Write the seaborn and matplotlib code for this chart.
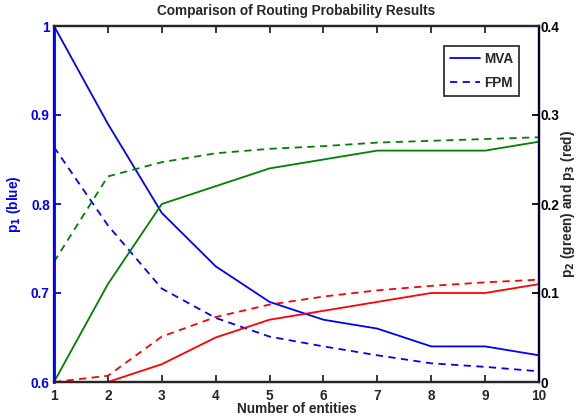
import numpy as np
import pandas as pd
import seaborn as sns
import matplotlib
matplotlib.use("Agg")
import matplotlib.pyplot as plt
from matplotlib.lines import Line2D

# data
entities = [1, 2, 3, 4, 5, 6, 7, 8, 9, 10]
p1_mva = [1.00, 0.89, 0.79, 0.73, 0.69, 0.67, 0.66, 0.64, 0.64, 0.63]
p1_fpm = [0.864, 0.776, 0.705, 0.672, 0.651, 0.640, 0.630, 0.621, 0.617, 0.612]
p2_mva = [0.00, 0.11, 0.20, 0.22, 0.24, 0.25, 0.26, 0.26, 0.26, 0.27]
p2_fpm = [0.135, 0.231, 0.247, 0.257, 0.262, 0.265, 0.269, 0.271, 0.273, 0.275]
p3_mva = [0.00, 0.00, 0.02, 0.05, 0.07, 0.08, 0.09, 0.10, 0.10, 0.11]
p3_fpm = [0.000, 0.007, 0.051, 0.073, 0.087, 0.096, 0.103, 0.108, 0.112, 0.115]

sns.set_style("ticks")
plt.rcParams['font.family'] = ['Liberation Sans', 'DejaVu Sans']
plt.rcParams['font.weight'] = 'bold'
plt.rcParams['axes.labelweight'] = 'bold'
plt.rcParams['axes.titleweight'] = 'bold'

blue = '#0000ff'
green = '#008000'
red = '#ff0000'
dash = (0, (4, 3))

fig = plt.figure(figsize=(5.79, 4.18), dpi=100)
ax = fig.add_axes([54/579, 36/418, 485/579, 356/418])
ax2 = ax.twinx()

left = pd.DataFrame({'x': entities, 'MVA': p1_mva, 'FPM': p1_fpm})
sns.lineplot(data=left, x='x', y='MVA', ax=ax, color=blue, lw=1.3)
sns.lineplot(data=left, x='x', y='FPM', ax=ax, color=blue, lw=1.3, linestyle=dash)

right = pd.DataFrame({'x': entities, 'p2m': p2_mva, 'p2f': p2_fpm, 'p3m': p3_mva, 'p3f': p3_fpm})
sns.lineplot(data=right, x='x', y='p2m', ax=ax2, color=green, lw=1.3)
sns.lineplot(data=right, x='x', y='p2f', ax=ax2, color=green, lw=1.3, linestyle=dash)
sns.lineplot(data=right, x='x', y='p3m', ax=ax2, color=red, lw=1.3)
sns.lineplot(data=right, x='x', y='p3f', ax=ax2, color=red, lw=1.3, linestyle=dash)

ax.set_xlim(1, 10)
ax.set_ylim(0.6, 1.0)
ax2.set_ylim(0, 0.4)
ax.set_xticks(entities)
ax.set_yticks([0.6, 0.7, 0.8, 0.9, 1.0])
ax.set_yticklabels(['0.6', '0.7', '0.8', '0.9', '1'])
ax2.set_yticks([0, 0.1, 0.2, 0.3, 0.4])
ax2.set_yticklabels(['0', '0.1', '0.2', '0.3', '0.4'])

fs = 9.8
ax.tick_params(axis='x', direction='in', top=True, length=5, width=1.3, labelsize=fs, pad=5)
ax.tick_params(axis='y', direction='in', length=5, width=1.3, labelsize=fs, colors=blue, pad=3)
ax2.tick_params(axis='y', direction='in', length=5, width=1.3, labelsize=fs, colors='black', pad=1)
for a in (ax, ax2):
    for s in a.spines.values():
        s.set_linewidth(1.6)
        s.set_visible(True)
ax2.spines['left'].set_color(blue)
ax.spines['left'].set_color(blue)
ax2.spines['left'].set_linewidth(2)
ax2.spines['right'].set_color('#000033')

ax.set_xlabel('Number of entities', fontsize=fs, labelpad=-1)
ax.set_ylabel('p$_\\mathbf{1}$ (blue)', fontsize=fs, color=blue, labelpad=6)
ax2.set_ylabel('p$_\\mathbf{2}$ (green) and p$_\\mathbf{3}$ (red)', fontsize=fs, labelpad=0)
ax.set_title('Comparison of Routing Probability Results', fontsize=fs, pad=8)

handles = [Line2D([], [], color=blue, lw=1.3),
           Line2D([], [], color=blue, lw=1.3, linestyle=dash)]
leg = ax2.legend(handles, ['MVA', 'FPM'], loc='upper right', bbox_to_anchor=(0.959, 0.944),
                 borderaxespad=0, fontsize=fs, frameon=True, fancybox=False, handlelength=2.2,
                 handletextpad=0.25, borderpad=0.45, labelspacing=0.7)
leg.get_frame().set_edgecolor('black')
leg.get_frame().set_linewidth(1.3)

ax.grid(False)
ax2.grid(False)
fig.savefig('out.png', dpi=100)
